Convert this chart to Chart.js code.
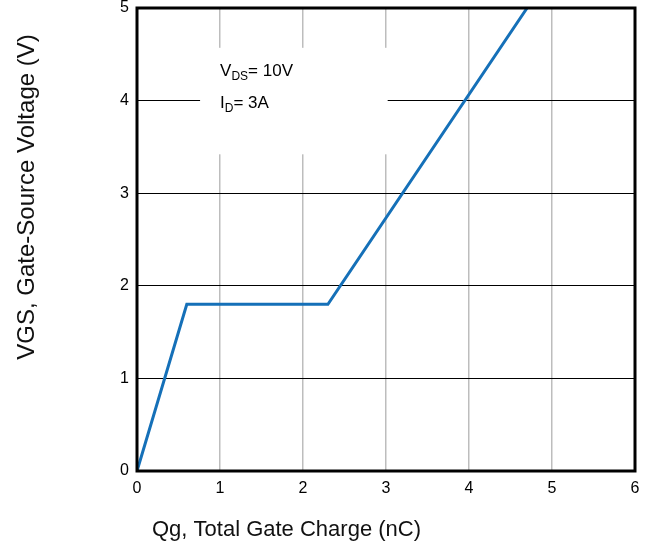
<!DOCTYPE html>
<html>
<head>
<meta charset="utf-8">
<script src="https://cdn.jsdelivr.net/npm/chart.js@4"></script>
<style>
  html, body { margin: 0; padding: 0; background: #fff; }
  #wrap { width: 656px; height: 550px; }
</style>
</head>
<body>
<div id="wrap"><canvas id="gateChart" width="656" height="550"></canvas></div>
<script>
// curve (nC, V)
const chargeNC = [0, 0.6, 2.3, 4.7];
const vgsVolts = [0, 1.8, 1.8, 5];
const xTicks = [0, 1, 2, 3, 4, 5, 6];
const yTicks = [0, 1, 2, 3, 4, 5];

const FONT = 'Liberation Sans, Arial, sans-serif';

// black frame, white note box and the two axis titles
const framePlugin = {
    id: 'frame',
    beforeDatasetsDraw(chart) {
        const { ctx, scales } = chart;
        const x = scales.x, y = scales.y;
        const l = x.getPixelForValue(0.76), r = x.getPixelForValue(3.02);
        const t = y.getPixelForValue(4.57), b = y.getPixelForValue(3.42);
        ctx.save();
        ctx.fillStyle = '#fff';
        ctx.fillRect(l, t, r - l, b - t);
        ctx.fillStyle = '#000';
        ctx.textBaseline = 'alphabetic';
        const tx = l + 20;
        const line = (main, sub, rest, base) => {
            let px = tx;
            ctx.font = '17px ' + FONT;
            ctx.fillText(main, px, base);
            px += ctx.measureText(main).width;
            ctx.font = '12px ' + FONT;
            ctx.fillText(sub, px, base + 4);
            px += ctx.measureText(sub).width;
            ctx.font = '17px ' + FONT;
            ctx.fillText(rest, px, base);
        };
        line('V', 'DS', '= 10V', t + 28);
        line('I', 'D', '= 3A', t + 60);
        ctx.restore();
    },
    afterDraw(chart) {
        const { ctx, chartArea: a } = chart;
        ctx.save();
        ctx.strokeStyle = '#000';
        ctx.lineWidth = 3;
        ctx.strokeRect(a.left, a.top, a.right - a.left, a.bottom - a.top);

        ctx.fillStyle = '#111';
        ctx.textBaseline = 'middle';
        ctx.font = '22px ' + FONT;
        ctx.textAlign = 'left';
        ctx.fillText('Qg, Total Gate Charge (nC)', 152, 530);

        ctx.translate(27, 197);
        ctx.rotate(-Math.PI / 2);
        ctx.font = '24px ' + FONT;
        ctx.textAlign = 'center';
        ctx.fillText('VGS, Gate-Source Voltage (V)', 0, 0);
        ctx.restore();
    }
};

const config = {
    type: 'line',
    data: {
        datasets: [{
            data: chargeNC.map((q, i) => ({ x: q, y: vgsVolts[i] })),
            borderColor: '#1570b8',
            borderWidth: 3,
            pointRadius: 0,
            tension: 0,
            fill: false
        }]
    },
    options: {
        responsive: false,
        animation: false,
        layout: { padding: { top: 8, right: 21, left: 0, bottom: 0 } },
        plugins: { legend: { display: false }, tooltip: { enabled: false } },
        scales: {
            x: {
                type: 'linear',
                min: 0, max: 6,
                afterBuildTicks: s => { s.ticks = xTicks.map(v => ({ value: v })); },
                afterFit: s => { s.height = 79; s.paddingLeft = 0; s.paddingRight = 0; },
                grid: { color: '#bdbdbd', lineWidth: 1.5, drawTicks: false },
                border: { display: false },
                ticks: { color: '#000', font: { family: FONT, size: 16 }, padding: 8 }
            },
            y: {
                type: 'linear',
                min: 0, max: 5,
                afterBuildTicks: s => { s.ticks = yTicks.map(v => ({ value: v })); },
                afterFit: s => { s.width = 137; s.paddingTop = 0; s.paddingBottom = 0; },
                grid: { color: '#000', lineWidth: 1, drawTicks: false },
                border: { display: false },
                ticks: { color: '#000', font: { family: FONT, size: 16 }, padding: 8 }
            }
        }
    },
    plugins: [framePlugin]
};

new Chart(document.getElementById('gateChart'), config);
</script>
</body>
</html>
